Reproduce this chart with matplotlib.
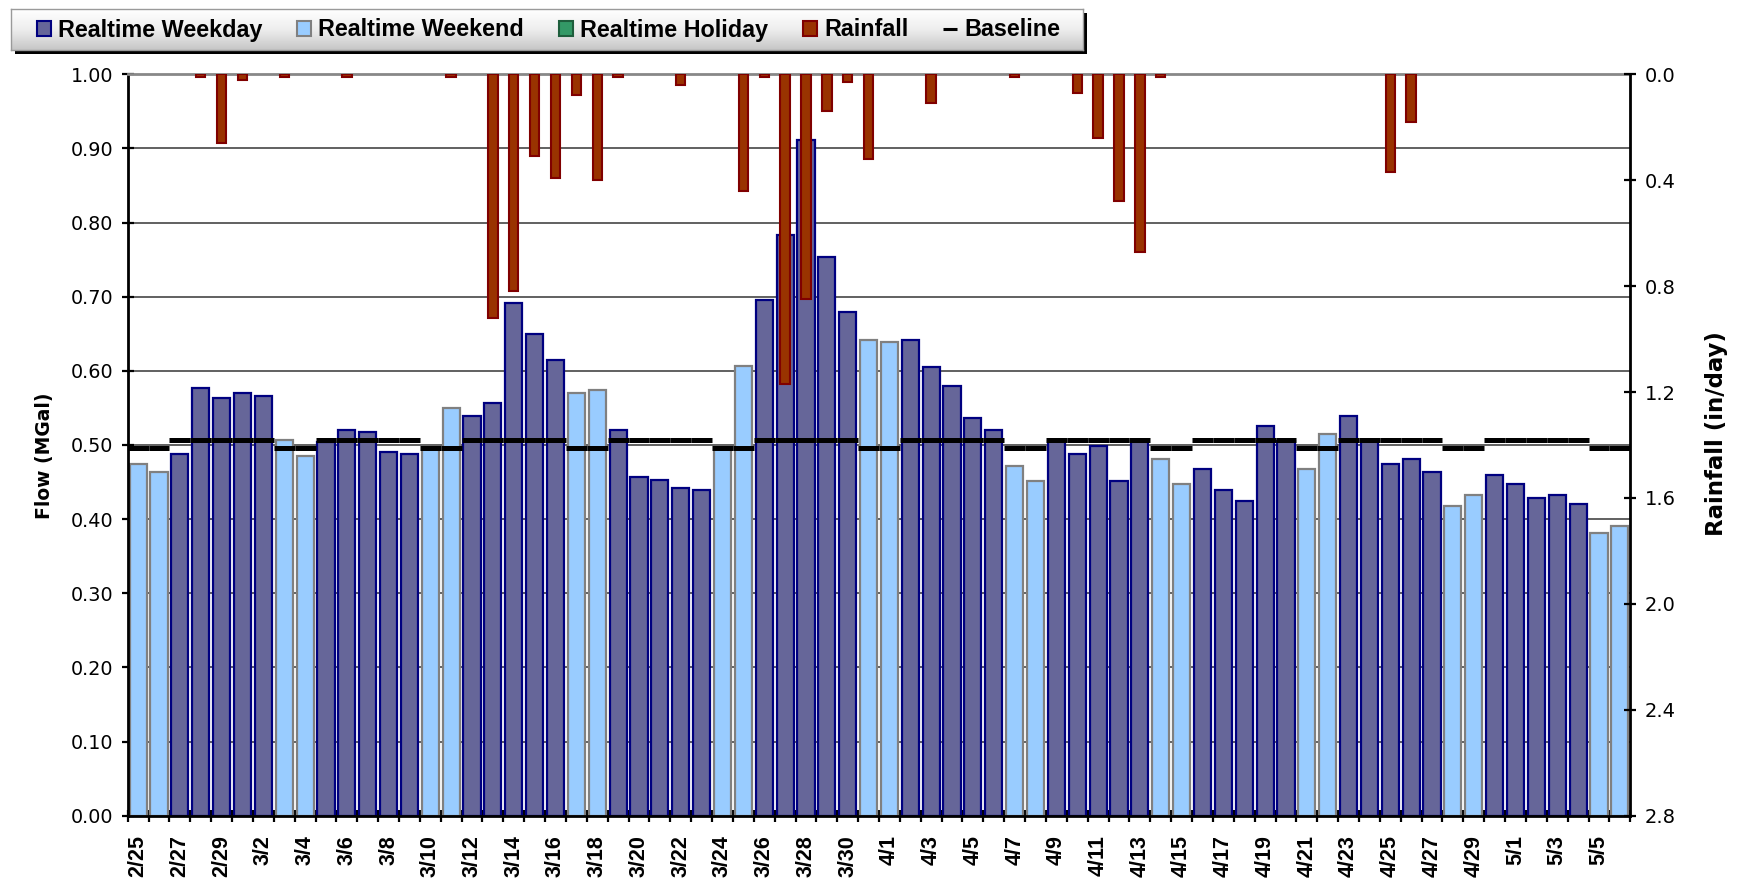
import numpy as np
import pandas as pd
import matplotlib
matplotlib.use("Agg")
import matplotlib.pyplot as plt
from matplotlib.patches import Patch, Rectangle
from matplotlib.lines import Line2D

# ---- data -------------------------------------------------------------
dates = pd.date_range("2008-02-25", "2008-05-06", freq="D")
day_labels = [f"{d.month}/{d.day}" for d in dates]

# D = weekday, E = weekend (as classified in the flow record)
day_type = list("EEDDDDD" "EEDDDDD" "EEDDDDD" "EEDDDDD" "EEDDDDD"
                "EEDDDDD" "EEDDDDD" "EEDDDDD" "EEDDDDD" "EEDDDDD" "EE")

flow_mgal = [0.474, 0.464, 0.488, 0.577, 0.564, 0.570, 0.566, 0.507, 0.485, 0.504,
             0.520, 0.518, 0.491, 0.488, 0.497, 0.550, 0.539, 0.556, 0.691, 0.650,
             0.615, 0.570, 0.574, 0.520, 0.457, 0.453, 0.442, 0.439, 0.497, 0.607,
             0.696, 0.783, 0.912, 0.753, 0.680, 0.642, 0.639, 0.642, 0.605, 0.580,
             0.537, 0.520, 0.472, 0.451, 0.506, 0.488, 0.499, 0.451, 0.506, 0.481,
             0.448, 0.467, 0.439, 0.424, 0.526, 0.506, 0.467, 0.515, 0.539, 0.506,
             0.475, 0.481, 0.464, 0.418, 0.433, 0.459, 0.448, 0.429, 0.432, 0.421,
             0.381, 0.391]

rain_in = [0.00, 0.00, 0.00, 0.01, 0.26, 0.02, 0.00, 0.01, 0.00, 0.00,
           0.01, 0.00, 0.00, 0.00, 0.00, 0.01, 0.00, 0.92, 0.82, 0.31,
           0.39, 0.08, 0.40, 0.01, 0.00, 0.00, 0.04, 0.00, 0.00, 0.44,
           0.01, 1.17, 0.85, 0.14, 0.03, 0.32, 0.00, 0.00, 0.11, 0.00,
           0.00, 0.00, 0.01, 0.00, 0.00, 0.07, 0.24, 0.48, 0.67, 0.01,
           0.00, 0.00, 0.00, 0.00, 0.00, 0.00, 0.00, 0.00, 0.00, 0.00,
           0.37, 0.18, 0.00, 0.00, 0.00, 0.00, 0.00, 0.00, 0.00, 0.00,
           0.00, 0.00]

baseline_weekday = 0.507
baseline_weekend = 0.496

flow_ticks = [0.0, 0.1, 0.2, 0.3, 0.4, 0.5, 0.6, 0.7, 0.8, 0.9, 1.0]
rain_ticks = [0.0, 0.4, 0.8, 1.2, 1.6, 2.0, 2.4, 2.8]

# ---- styling ------------------------------------------------------------
WEEKDAY_FILL, WEEKDAY_EDGE = "#666699", "#000080"
WEEKEND_FILL, WEEKEND_EDGE = "#99CCFF", "#808080"
HOLIDAY_FILL, HOLIDAY_EDGE = "#339966", "#1E5E3C"
RAIN_FILL, RAIN_EDGE = "#993300", "#800000"

W, H, DPI = 1739, 882, 100
fig = plt.figure(figsize=(W / DPI, H / DPI), dpi=DPI, facecolor="white")

left, right = 127.7 / W, 1630.3 / W
bottom, top = 1 - 815.7 / H, 1 - 74.3 / H
ax = fig.add_axes([left, bottom, right - left, top - bottom])
ax2 = ax.twinx()

x = np.arange(len(flow_mgal))
is_weekend = np.array([t == "E" for t in day_type])
fills = [WEEKEND_FILL if e else WEEKDAY_FILL for e in is_weekend]
edges = [WEEKEND_EDGE if e else WEEKDAY_EDGE for e in is_weekend]

ax.bar(x, flow_mgal, width=0.82, color=fills, edgecolor=edges, linewidth=1.6, zorder=2)

baseline = np.where(is_weekend, baseline_weekend, baseline_weekday)
ax.hlines(baseline, x - 0.5, x + 0.5, colors="black", linewidth=3.6, zorder=3)

# rainfall bars hang down from the top of the inverted right axis (dry days skipped)
rain = np.array(rain_in)
wet = rain > 0
ax2.bar(x[wet], rain[wet], width=0.45, color=RAIN_FILL, edgecolor=RAIN_EDGE,
        linewidth=1.5, zorder=2)

# ---- axes ---------------------------------------------------------------
ax.set_xlim(-0.5, len(x) - 0.5)
ax.set_ylim(0, 1.0)
ax2.set_ylim(2.8, 0.0)

ax.set_axisbelow(True)
ax.yaxis.grid(True, color="#454545", linewidth=1.2)
ax.xaxis.grid(False)

for side in ("left", "bottom"):
    ax.spines[side].set_color("black")
    ax.spines[side].set_linewidth(2.0)
ax.spines["right"].set_visible(False)
ax.spines["top"].set_color("#888888")
ax.spines["top"].set_linewidth(2.0)
for side in ("left", "top", "bottom"):
    ax2.spines[side].set_visible(False)
ax2.spines["right"].set_color("black")
ax2.spines["right"].set_linewidth(2.0)

ax.set_yticks(flow_ticks)
ax.set_yticklabels([f"{v:.2f}" for v in flow_ticks], fontsize=13.8, family="DejaVu Sans")
ax.tick_params(axis="y", direction="inout", length=9, width=1.6, pad=6)

ax2.set_yticks(rain_ticks)
ax2.set_yticklabels([f"{v:.1f}" for v in rain_ticks], fontsize=14, family="DejaVu Sans")
ax2.tick_params(axis="y", direction="inout", length=9, width=1.6, pad=6)

boundaries = np.arange(len(x) + 1) - 0.5
ax.set_xticks(boundaries)
ax.set_xticklabels([])
ax.tick_params(axis="x", which="major", direction="inout", length=9, width=1.6)
ax.set_xticks(x[::2], minor=True)
ax.set_xticklabels(day_labels[::2], minor=True, rotation=90,
                   fontsize=15.5, fontweight="bold", family="Liberation Sans")
ax.tick_params(axis="x", which="minor", length=0, pad=14)

ax.set_ylabel("Flow (MGal)", fontsize=13.5, fontweight="bold", family="DejaVu Sans")
ax.yaxis.set_label_coords(-0.049, 0.486)
ax2.set_ylabel("Rainfall (in/day)", fontsize=16.5, fontweight="bold", family="DejaVu Sans",
               rotation=90)
ax2.yaxis.set_label_coords(1.050, 0.515)

# ---- legend box with gradient and drop shadow --------------------------
bx0, by0, bx1, by1 = 11, 9, 1083, 50
shadow = Rectangle(((bx0 + 4) / W, 1 - (by1 + 4) / H), (bx1 - bx0) / W, (by1 - by0) / H,
                   transform=fig.transFigure, facecolor="black", edgecolor="none", zorder=1)
fig.patches.append(shadow)
lax = fig.add_axes([bx0 / W, 1 - by1 / H, (bx1 - bx0) / W, (by1 - by0) / H], zorder=2)
grad = np.linspace(0, 1, 64).reshape(-1, 1)
lax.imshow(grad, aspect="auto", cmap=matplotlib.colors.LinearSegmentedColormap.from_list(
    "lg", ["#ffffff", "#eeeeee", "#c6c6c6"]), extent=(0, 1, 0, 1), origin="upper")
lax.set_xticks([])
lax.set_yticks([])
for s in lax.spines.values():
    s.set_color("#9a9a9a")
    s.set_linewidth(1.0)

handles = [
    Patch(facecolor=WEEKDAY_FILL, edgecolor=WEEKDAY_EDGE, linewidth=1.5),
    Patch(facecolor=WEEKEND_FILL, edgecolor=WEEKEND_EDGE, linewidth=1.5),
    Patch(facecolor=HOLIDAY_FILL, edgecolor=HOLIDAY_EDGE, linewidth=1.5),
    Patch(facecolor=RAIN_FILL, edgecolor=RAIN_EDGE, linewidth=1.5),
    Line2D([], [], color="black", marker="_", markersize=10, markeredgewidth=2.2, linestyle="none"),
]
names = ["Realtime Weekday", "Realtime Weekend", "Realtime Holiday", "Rainfall", "Baseline"]
leg = fig.legend(handles, names, ncol=5, loc="center left",
                 bbox_to_anchor=(37 / W, 1 - 30 / H), frameon=False,
                 prop={"family": "Liberation Sans", "weight": "bold", "size": 16.8},
                 handlelength=0.6, handleheight=0.6, handletextpad=0.3,
                 columnspacing=1.5, borderpad=0, borderaxespad=0)
leg.set_zorder(5)

fig.savefig("out.png", dpi=DPI, facecolor="white")
